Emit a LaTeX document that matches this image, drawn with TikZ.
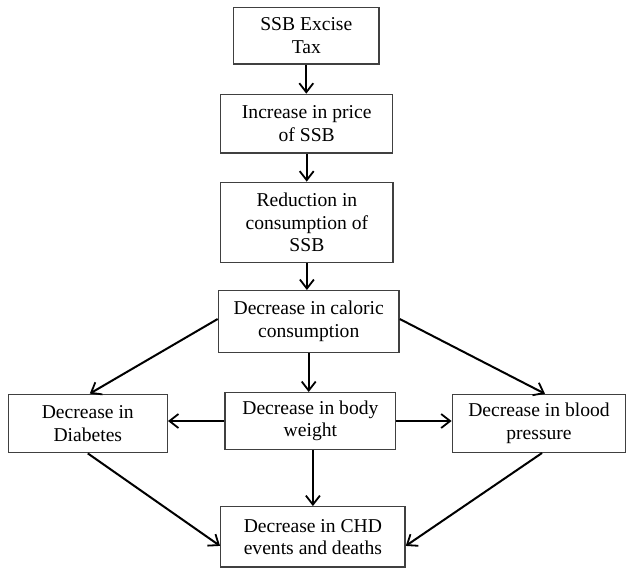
\documentclass[tikz,border=0pt]{standalone}
\usepackage{fontspec}
\setmainfont{Liberation Serif}
\usetikzlibrary{arrows.meta,calc}
\begin{document}
\begin{tikzpicture}[x=1pt,y=-1pt,
  box/.style={draw=black!75, line width=1.4pt, align=center, inner sep=0pt,
    font=\fontsize{19.6}{22.5}\selectfont},
  arr/.style={line width=2pt, -{Straight Barb[length=9pt,width=14pt,line width=1.8pt]}}]
\useasboundingbox (0,0) rectangle (627,571);
\node[box, minimum width=145.3pt, minimum height=56.7pt] (n1) at (306.3,35.7) {SSB Excise\\Tax};
\node[box, minimum width=172pt, minimum height=58.7pt] (n2) at (306.7,123.7) {Increase in price\\of SSB};
\node[box, minimum width=172.3pt, minimum height=80pt] (n3) at (306.9,222.3) {Reduction in\\consumption of\\SSB};
\node[box, minimum width=180.7pt, minimum height=61.6pt] (n4) at (308.7,321.5) {Decrease in caloric\\consumption};
\node[box, minimum width=159pt, minimum height=58.4pt] (n5) at (87.8,423.5) {Decrease in\\Diabetes};
\node[box, minimum width=170.7pt, minimum height=56.6pt] (n6) at (310.4,421) {Decrease in body\\weight};
\node[box, minimum width=173.4pt, minimum height=57.8pt] (n7) at (539,423.4) {Decrease in blood\\pressure};
\node[box, minimum width=184.3pt, minimum height=60.3pt] (n8) at (312.9,536.9) {Decrease in CHD\\events and deaths};
\coordinate (c4l) at ($(n4.west)+(0,-2.5)$);
\coordinate (c4r) at ($(n4.east)+(0,-2.5)$);
\coordinate (c5t) at ($(n5.north)+(2,0)$);
\coordinate (c7t) at ($(n7.north)+(6,0)$);
\coordinate (c6b) at ($(n6.south)+(2.5,0)$);
\coordinate (c7b) at ($(n7.south)+(3,0)$);
\coordinate (c8l) at ($(n8.west)+(0,9)$);
\coordinate (c8r) at ($(n8.east)+(0,9)$);
\draw[arr] (n1.south) -- (n1.south |- n2.north);
\draw[arr] (n2.south) -- (n2.south |- n3.north);
\draw[arr] (n3.south) -- (n3.south |- n4.north);
\draw[arr] (n4.south) -- (n4.south |- n6.north);
\draw[arr] (c4l) -- (c5t);
\draw[arr] (c4r) -- (c7t);
\draw[arr] (n6.west) -- (n6.west -| n5.east);
\draw[arr] (n6.east) -- (n6.east -| n7.west);
\draw[arr] (c6b) -- (c6b |- n8.north);
\draw[arr] (n5.south) -- (c8l);
\draw[arr] (c7b) -- (c8r);
\end{tikzpicture}
\end{document}
